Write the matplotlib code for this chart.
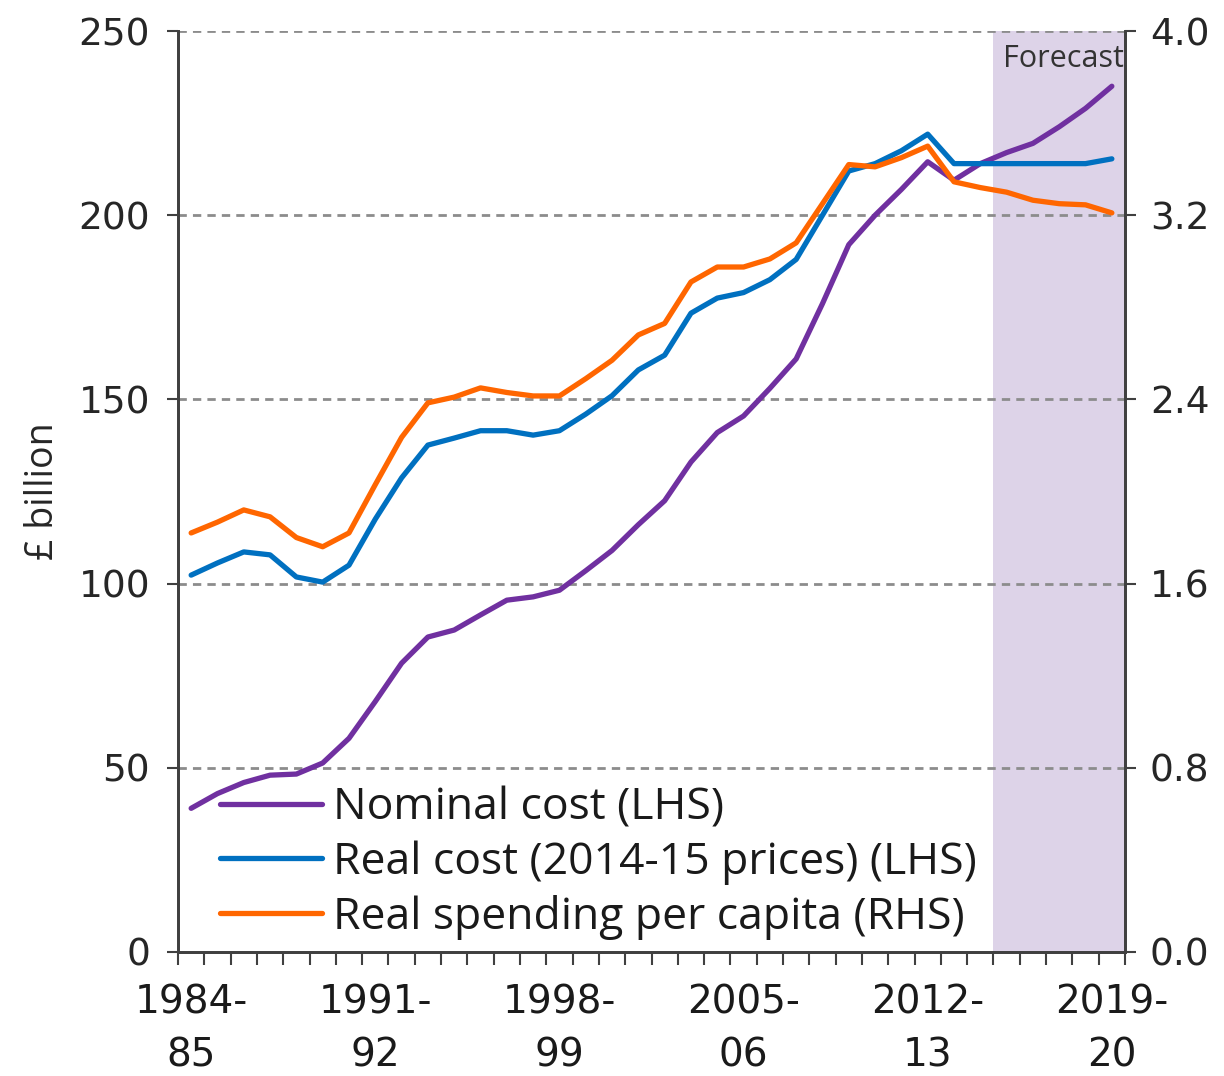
import matplotlib
matplotlib.use("Agg")
import matplotlib.pyplot as plt
import numpy as np
from matplotlib.ticker import FixedLocator

years = [f"{y}-{str(y+1)[2:]}" for y in range(1984, 2020)]
tick_labels = ["1984-\n85", "1991-\n92", "1998-\n99", "2005-\n06", "2012-\n13", "2019-\n20"]

nominal = [39, 43, 46, 48, 48.3, 51.3, 58, 68, 78.4, 85.5, 87.4, 91.5, 95.5, 96.4, 98.2,
           103.5, 109, 116, 122.5, 133, 141, 145.5, 153, 161, 176, 192, 200, 207, 214.5,
           209.5, 214, 217, 219.5, 224, 229, 235]
real_cost = [102.3, 105.6, 108.6, 107.8, 101.8, 100.4, 105, 117.5, 128.7, 137.6, 139.5, 141.5,
             141.5, 140.3, 141.5, 146, 151, 158, 162, 173.4, 177.5, 179, 182.5, 188, 200, 212,
             214, 217.5, 222, 214, 214, 214, 214, 214, 214, 215.3]
per_capita = [1.82, 1.867, 1.92, 1.89, 1.80, 1.76, 1.82, 2.03, 2.235, 2.385, 2.41, 2.45, 2.43,
              2.415, 2.415, 2.49, 2.57, 2.68, 2.73, 2.91, 2.975, 2.975, 3.01, 3.08, 3.25, 3.42,
              3.41, 3.45, 3.50, 3.345, 3.32, 3.30, 3.265, 3.25, 3.245, 3.21]
forecast_start = "2015-16"

labels = ["Nominal cost (LHS)", "Real cost (2014-15 prices) (LHS)", "Real spending per capita (RHS)"]
colors = ["#7030A0", "#0070C0", "#FF6600"]

plt.rcParams['font.family'] = ['Open Sans', 'DejaVu Sans']

fig = plt.figure(figsize=(12.24, 10.76), dpi=100)
ax = fig.add_axes([178/1224, 1 - 952/1076, (1125-178)/1224, (952-31)/1076])
ax2 = ax.twinx()

x = np.arange(len(years))
fs = years.index(forecast_start)
ax.axvspan(fs - 0.5, len(years) - 0.5, color="#DDD3E8", lw=0, zorder=0)
ax.text(len(years) - 0.5 - 0.05, 246.5, "Forecast", ha="right", va="top", fontsize=22, color="#333333")

for v in [50, 100, 150, 200, 250]:
    ax.axhline(v, color="#8c8c8c", lw=2, ls=(0, (3, 2.2)), zorder=1)

l1, = ax.plot(x, nominal, color=colors[0], lw=3.8, zorder=3, solid_capstyle="round")
l2, = ax.plot(x, real_cost, color=colors[1], lw=3.8, zorder=3, solid_capstyle="round")
l3, = ax2.plot(x, per_capita, color=colors[2], lw=3.8, zorder=3, solid_capstyle="round")

ax.set_xlim(-0.5, len(years) - 0.5)
ax.set_ylim(0, 250)
ax2.set_ylim(0, 4.0)

tick_font = ['DejaVu Sans']
ax.set_yticks([0, 50, 100, 150, 200, 250])
ax.set_yticklabels(["0", "50", "100", "150", "200", "250"], family=tick_font)
ax2.set_yticks([0, 0.8, 1.6, 2.4, 3.2, 4.0])
ax2.set_yticklabels(["0.0", "0.8", "1.6", "2.4", "3.2", "4.0"], family=tick_font)

ax.set_xticks([0, 7, 14, 21, 28, 35])
ax.set_xticklabels(tick_labels, fontsize=28, family=['Liberation Sans Narrow', 'DejaVu Sans'],
                   linespacing=1.5, color="#1a1a1a")
ax.tick_params(axis="x", which="major", length=0, pad=23)
ax.xaxis.set_minor_locator(FixedLocator(np.arange(-0.5, len(years), 1.0)))
ax.tick_params(axis="x", which="minor", length=9, width=1.5, direction="out", color="#404040")

ax.tick_params(axis="y", labelsize=27, length=8, width=1.5, color="#404040", pad=12, labelcolor="#262626")
ax2.tick_params(axis="y", labelsize=27, length=8, width=1.5, color="#404040", pad=10, labelcolor="#262626")

for a in (ax, ax2):
    a.spines["top"].set_visible(False)
    for s in ("left", "right", "bottom"):
        a.spines[s].set_linewidth(2)
        a.spines[s].set_color("#404040")

ax.set_ylabel("£ billion", fontsize=27, labelpad=12, color="#262626")

leg = ax2.legend([l1, l2, l3], labels, loc="upper left", bbox_to_anchor=(0.044, 0.180),
                 frameon=False, fontsize=32, handlelength=2.3, handletextpad=0.25,
                 labelspacing=0.22, borderaxespad=0, borderpad=0)
for t in leg.get_texts():
    t.set_color("#1a1a1a")

fig.savefig("out.png", dpi=100)
